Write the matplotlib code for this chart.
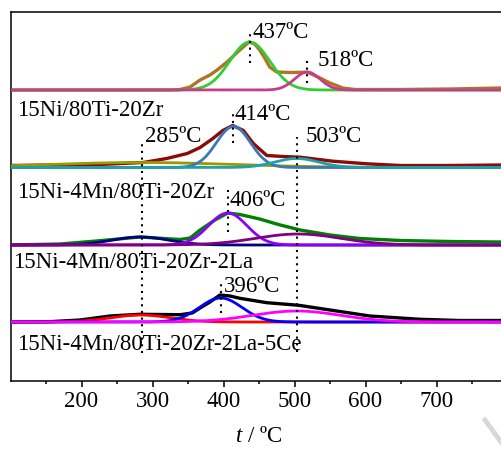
import numpy as np
import matplotlib
matplotlib.use("Agg")
import matplotlib.pyplot as plt
from matplotlib.lines import Line2D

plt.rcParams['font.family'] = ['Liberation Serif', 'DejaVu Serif']
plt.rcParams['mathtext.fontset'] = 'custom'
plt.rcParams['mathtext.it'] = 'Liberation Serif:italic'
plt.rcParams['mathtext.rm'] = 'Liberation Serif'

# ---------------- data ----------------
samples = ["15Ni/80Ti-20Zr", "15Ni-4Mn/80Ti-20Zr",
           "15Ni-4Mn/80Ti-20Zr-2La", "15Ni-4Mn/80Ti-20Zr-2La-5Ce"]

# measured (total) TPR profiles: temperature (ºC) and intensity (a.u.)
t1 = [100, 325, 339, 353, 367, 381, 391, 405, 423, 436, 444, 451, 458, 465, 475,
      494, 518, 533, 550, 568, 585, 649, 719, 791]
i1 = [0, 0, 0.5, 3, 10, 15, 20, 28, 40, 48, 46, 40, 32, 23, 18,
      17.5, 17.8, 13, 7, 2, 0.5, 0.5, 1, 2]

t2 = [100, 170, 226, 287, 320, 349, 367, 385, 399, 413, 428, 442, 461, 484,
      508, 554, 602, 649, 719, 791]
i2 = [2, 2.5, 3, 5, 9, 14, 20, 29, 37, 42, 37, 24, 12, 11,
      10.3, 6.3, 3.7, 2, 2, 2.5]

t3 = [100, 170, 226, 282, 339, 353, 367, 388, 406, 423, 451, 470, 480, 508,
      550, 592, 649, 719, 791]
i3 = [0, 1, 4.3, 8, 5.5, 7, 15, 25, 32, 30.5, 26, 22, 20, 15,
      10, 6.5, 4.5, 3.5, 3]

t4 = [100, 155, 198, 240, 282, 339, 356, 367, 381, 395, 409, 423, 461, 501,
      508, 550, 606, 677, 733, 791]
i4 = [0, 0.3, 2, 6, 7.7, 7.3, 9, 14, 20, 27, 26, 23.7, 19.3, 17,
      16.5, 12, 6, 2.7, 1.5, 1.5]

# fitted Gaussian components: centre (ºC), height (a.u.), sigma (ºC)
c1_center = [437, 518]
c1_height = [48, 18]
c1_sigma = [28, 18]

c2_center = [285, 414, 503]
c2_height = [5, 41, 9]
c2_sigma = [130, 24, 31]

c3_center = [283, 406, 505]
c3_height = [8, 32, 11]
c3_sigma = [40, 27, 60]

c4_center = [283, 396, 503]
c4_height = [7, 24, 11]
c4_sigma = [42, 30, 62]

peak_labels = ["437ºC", "518ºC", "414ºC", "285ºC", "503ºC", "406ºC", "396ºC"]

# ---------------- styling ----------------
offsets = [291, 213.5, 136, 59]
total_colors = ['#B07428', '#8B0A0A', '#008000', '#000000']
comp_colors = [['#33CC33', '#C83C8C'],
               ['#999900', '#3A78B8', '#20A0A8'],
               ['#000080', '#8B00FF', '#800080'],
               ['#FF0000', '#0000FF', '#FF00FF']]

fig = plt.figure(figsize=(5.01, 4.51), dpi=100)
ax = fig.add_axes([10.5 / 501, 70 / 451, 497 / 501, 369 / 451])

T = np.linspace(100, 800, 1401)
totals = [(t1, i1), (t2, i2), (t3, i3), (t4, i4)]
comps = [(c1_center, c1_height, c1_sigma), (c2_center, c2_height, c2_sigma),
         (c3_center, c3_height, c3_sigma), (c4_center, c4_height, c4_sigma)]

for k in range(4):
    off = offsets[k]
    tt, ii = totals[k]
    ax.plot(tt, np.array(ii) + off, color=total_colors[k], lw=2.4,
            solid_joinstyle='round', solid_capstyle='round', zorder=2)
    cc, hh, ss = comps[k]
    for j in range(len(cc)):
        g = hh[j] * np.exp(-(T - cc[j]) ** 2 / (2 * ss[j] ** 2))
        ax.plot(T, g + off, color=comp_colors[k][j], lw=2.0, zorder=3 + j)

# dotted guide lines (temperature, y-bottom, y-top)
dots = [(437, 318, 348), (518, 298, 324), (414, 238, 268), (285, 28, 239),
        (503, 29, 244), (406, 149, 191), (396, 68, 101)]
for x, y0, y1 in dots:
    ax.plot([x, x], [y0, y1], color='black', lw=1.5, ls=(0, (1, 2.2)), zorder=10)

# peak labels
lab_pos = [(441, 349), (533, 320), (416, 266), (289, 245), (516, 245),
           (408, 181), (401, 94)]
for s, (x, y) in zip(peak_labels, lab_pos):
    ax.text(x, y, s, fontsize=16.5, ha='left', va='center', zorder=11)

sample_pos = [(109, 271), (109, 189), (103.5, 119), (109, 36)]
for s, (x, y) in zip(samples, sample_pos):
    ax.text(x, y, s, fontsize=16.5, ha='left', va='center', zorder=11)

ax.set_xlim(100, 800)
ax.set_ylim(0, 369)
ax.set_xticks([200, 300, 400, 500, 600, 700])
ax.set_xticks([150, 250, 350, 450, 550, 650, 750], minor=True)
ax.set_yticks([])
ax.tick_params(axis='x', which='major', length=4, width=1.1, labelsize=16.5, pad=3)
ax.tick_params(axis='x', which='minor', length=2.5, width=1.1)
for sp in ax.spines.values():
    sp.set_linewidth(1.1)
ax.set_xlabel("$t$ / ºC", fontsize=16.5, labelpad=10)

# faint watermark stroke at bottom-right
fig.add_artist(Line2D([485 / 501, 501 / 501], [1 - 420 / 451, 1 - 442 / 451],
                      transform=fig.transFigure, color='#D8D8D8', lw=3.5))

fig.savefig("out.png", dpi=100)
